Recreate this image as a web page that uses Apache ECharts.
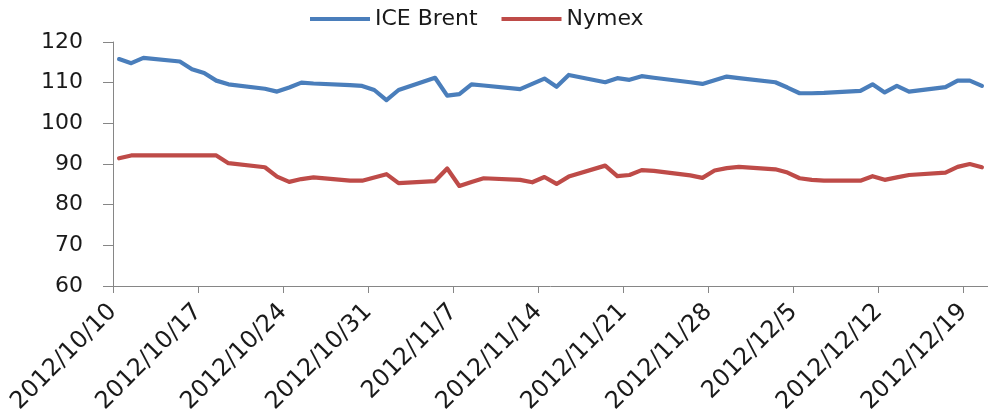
<!DOCTYPE html>
<html>
<head>
<meta charset="utf-8">
<script src="https://cdn.jsdelivr.net/npm/echarts@6/dist/echarts.min.js"></script>
<style>
html,body{margin:0;padding:0;background:#fff;}
#chart{width:988px;height:418px;}
</style>
</head>
<body>
<div id="chart"></div>
<script>
// Trading days
var dates = [
  '2012-10-10','2012-10-11','2012-10-12','2012-10-15','2012-10-16','2012-10-17','2012-10-18','2012-10-19',
  '2012-10-22','2012-10-23','2012-10-24','2012-10-25','2012-10-26','2012-10-29','2012-10-30','2012-10-31',
  '2012-11-01','2012-11-02','2012-11-05','2012-11-06','2012-11-07','2012-11-08','2012-11-09','2012-11-12',
  '2012-11-13','2012-11-14','2012-11-15','2012-11-16','2012-11-19','2012-11-20','2012-11-21','2012-11-22',
  '2012-11-23','2012-11-26','2012-11-27','2012-11-28','2012-11-29','2012-11-30','2012-12-03','2012-12-04',
  '2012-12-05','2012-12-06','2012-12-07','2012-12-10','2012-12-11','2012-12-12','2012-12-13','2012-12-14',
  '2012-12-17','2012-12-18','2012-12-19','2012-12-20'
];
var brent = [
  115.8,114.8,116.1,115.2,113.3,112.4,110.5,109.6,
  108.5,107.8,108.8,110.0,109.8,109.4,109.2,108.2,
  105.7,108.2,111.2,106.8,107.2,109.6,109.3,108.4,
  109.7,111.0,109.0,111.9,110.1,111.1,110.7,111.6,
  111.2,110.1,109.7,110.6,111.5,111.1,110.1,108.8,
  107.4,107.4,107.5,108.0,109.6,107.6,109.2,107.8,
  108.9,110.5,110.5,109.2
];
var nymex = [
  91.4,92.1,92.1,92.1,92.1,92.1,92.1,90.2,
  89.2,86.9,85.6,86.3,86.7,85.9,85.9,86.7,
  87.5,85.3,85.8,88.9,84.6,85.6,86.5,86.1,
  85.5,86.8,85.1,86.9,89.6,87.0,87.3,88.5,
  88.3,87.2,86.6,88.4,89.0,89.3,88.7,87.9,
  86.5,86.1,85.9,85.9,87.0,86.1,86.7,87.3,
  87.9,89.3,90.0,89.2
];
var tickLabels = ['2012/10/10','2012/10/17','2012/10/24','2012/10/31','2012/11/7','2012/11/14',
  '2012/11/21','2012/11/28','2012/12/5','2012/12/12','2012/12/19'];
var yTicks = [60,70,80,90,100,110,120];
var seriesNames = ['ICE Brent','Nymex'];

var startDay = Date.UTC(2012,9,10);
function dayOffset(s){
  var p = s.split('-');
  return (Date.UTC(+p[0], +p[1]-1, +p[2]) - startDay) / 86400000 + 0.5;
}
function pairs(vals){
  return dates.map(function(d,i){ return [dayOffset(d), vals[i]]; });
}

var font = '"DejaVu Sans", sans-serif';
var chart = echarts.init(document.getElementById('chart'), null, {renderer:'canvas'});
chart.setOption({
  animation:false,
  backgroundColor:'#ffffff',
  legend:{
    data:seriesNames,
    left:310, top:8, padding:0,
    icon:'rect', itemWidth:60, itemHeight:4, itemGap:24,
    textStyle:{fontFamily:font, fontSize:22, color:'#1a1a1a'}
  },
  grid:{left:113, right:0, top:42, bottom:132, containLabel:false},
  xAxis:{
    type:'value', min:0, max:72, interval:7,
    axisLine:{show:true, lineStyle:{color:'#868686', width:1}},
    axisTick:{show:true, length:7, lineStyle:{color:'#868686'}},
    splitLine:{show:false},
    axisLabel:{
      rotate:45, margin:22, fontFamily:font, fontSize:24, color:'#1a1a1a',
      showMaxLabel:false,
      formatter:function(v){ return (v % 7 === 0) ? (tickLabels[v/7] || '') : ''; }
    }
  },
  yAxis:{
    type:'value', min:yTicks[0], max:yTicks[yTicks.length-1], interval:10,
    axisLine:{show:true, lineStyle:{color:'#868686', width:1}},
    axisTick:{show:true, length:10, lineStyle:{color:'#868686'}},
    splitLine:{show:false},
    axisLabel:{margin:30, fontFamily:font, fontSize:22, color:'#1a1a1a'}
  },
  series:[
    {name:seriesNames[0], type:'line', data:pairs(brent), showSymbol:false, symbol:'none',
     color:'#4a7ebb', lineStyle:{color:'#4a7ebb', width:4.2, join:'round', cap:'round'}, itemStyle:{color:'#4a7ebb'}},
    {name:seriesNames[1], type:'line', data:pairs(nymex), showSymbol:false, symbol:'none',
     color:'#be4b48', lineStyle:{color:'#be4b48', width:4.2, join:'round', cap:'round'}, itemStyle:{color:'#be4b48'}}
  ]
});
</script>
</body>
</html>
